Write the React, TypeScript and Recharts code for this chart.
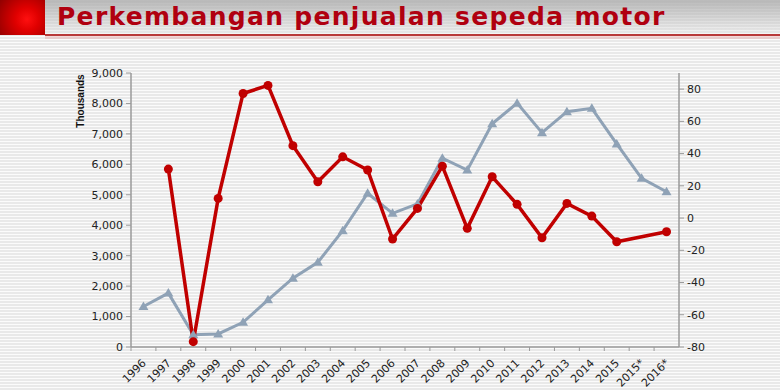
import React from "react";
import { LineChart, Line, XAxis, YAxis } from "recharts";

const years = ["1996","1997","1998","1999","2000","2001","2002","2003","2004","2005","2006","2007","2008","2009","2010","2011","2012","2013","2014","2015","2015*","2016*"];
// Sales (thousands of units)
const sales = [1330,1770,400,430,810,1550,2260,2780,3820,5050,4390,4700,6200,5810,7330,8010,7040,7730,7840,6670,5540,5100];
// Growth (%)
const growth: (number | null)[] = [null,30.4,-76.7,12.2,77.3,82.3,44.9,22.5,38,29.8,-13,6,32.2,-6.4,25.6,8.5,-12.2,9.1,1.2,-14.7,null,-8.5];
const leftTicks = [0,1000,2000,3000,4000,5000,6000,7000,8000,9000];
const rightTicks = [-80,-60,-40,-20,0,20,40,60,80];

const data = years.map((y, i) => ({ year: y, sales: sales[i], growth: growth[i] }));

const GREY = "#8fa2b6";
const RED = "#c00000";
const FONT = "'DejaVu Sans', Verdana, sans-serif";
const PLOT_W = 548;

const XTick = (props: any) => {
  const { x, y, payload } = props;
  const off = payload.offset || PLOT_W / years.length / 2;
  return (
    <g>
      <line x1={x - off} x2={x - off} y1={y} y2={y + 4} stroke="#9a9a9a" strokeWidth={1} />
      <g transform={`translate(${x + 0.5},${y + 14})`}>
        <text x={0} y={0} dy="0.35em" textAnchor="end" transform="rotate(-45)" fontSize={11} fontFamily={FONT} fill="#222">
          {payload.value}
        </text>
      </g>
    </g>
  );
};

const Triangle = (props: any) => {
  const { cx, cy } = props;
  if (cx == null || cy == null) return null;
  return <polygon points={`${cx},${cy - 5} ${cx - 5},${cy + 3.5} ${cx + 5},${cy + 3.5}`} fill={GREY} />;
};

const Circle = (props: any) => {
  const { cx, cy, value } = props;
  if (cx == null || cy == null || value == null) return null;
  return <circle cx={cx} cy={cy} r={4.5} fill={RED} />;
};

export default function App() {
  return (
    <div
      style={{
        position: "absolute",
        left: 0,
        top: 0,
        width: 780,
        height: 390,
        overflow: "hidden",
        background: "repeating-linear-gradient(to bottom, #fbfbfb 0px, #fbfbfb 1.5px, #e9e9e9 1.5px, #e9e9e9 3px)",
      }}
    >
      <div
        style={{
          position: "absolute",
          left: 0,
          top: 0,
          width: 780,
          height: 34,
          background: "linear-gradient(to bottom, rgba(170,170,170,0.8), rgba(230,230,230,0.3))",
        }}
      />
      <div
        style={{
          position: "absolute",
          left: 0,
          top: 0,
          width: 45,
          height: 35,
          background: "radial-gradient(circle at 60% 55%, #ff1010 0%, #e00000 35%, #900000 100%)",
        }}
      />
      <div style={{ position: "absolute", left: 45, top: 34, width: 735, height: 2, background: "#b83838" }} />
      <div style={{ position: "absolute", left: 45, top: 36, width: 735, height: 3, background: "rgba(230,150,150,0.35)" }} />
      <div
        style={{
          position: "absolute",
          left: 57,
          top: 2,
          fontFamily: "'DejaVu Sans', sans-serif",
          fontWeight: 700,
          fontSize: 25,
          letterSpacing: "1.3px",
          color: "#b00010",
          whiteSpace: "nowrap",
        }}
      >
        Perkembangan penjualan sepeda motor
      </div>
      <div style={{ position: "absolute", left: 0, top: 0 }}>
        <LineChart width={780} height={390} data={data} margin={{ top: 73, right: 41, bottom: 0, left: 71 }}>
          <XAxis
            dataKey="year"
            scale="band"
            height={43}
            interval={0}
            tickLine={false}
            tickSize={0}
            tickMargin={0}
            axisLine={{ stroke: "#9a9a9a", strokeWidth: 1.5 }}
            tick={<XTick />}
          />
          <YAxis
            yAxisId="left"
            width={60}
            domain={[0, 9000]}
            ticks={leftTicks}
            interval={0}
            tickFormatter={(v: number) => v.toLocaleString("en-US")}
            tick={{ fontSize: 11, fontFamily: FONT, fill: "#222" }}
            tickSize={5}
            tickMargin={3}
            tickLine={{ stroke: "#9a9a9a" }}
            axisLine={{ stroke: "#9a9a9a", strokeWidth: 1.5 }}
            label={{
              content: () => (
                <text x={84} y={101} transform="rotate(-90 84 101)" textAnchor="middle" fontSize={10} fontWeight={700} fontFamily="'Liberation Sans', Arial, sans-serif" fill="#111">
                  Thousands
                </text>
              ),
            }}
          />
          <YAxis
            yAxisId="right"
            orientation="right"
            width={60}
            domain={[-80, 90]}
            ticks={rightTicks}
            interval={0}
            tick={{ fontSize: 11, fontFamily: FONT, fill: "#222", textAnchor: "start" }}
            tickSize={5}
            tickMargin={3}
            tickLine={{ stroke: "#9a9a9a" }}
            axisLine={{ stroke: "#9a9a9a", strokeWidth: 1.5 }}
          />
          <Line
            yAxisId="left"
            type="linear"
            dataKey="sales"
            stroke={GREY}
            strokeWidth={3}
            dot={<Triangle />}
            activeDot={false}
            isAnimationActive={false}
          />
          <Line
            yAxisId="right"
            type="linear"
            dataKey="growth"
            stroke={RED}
            strokeWidth={3.5}
            dot={<Circle />}
            activeDot={false}
            connectNulls
            isAnimationActive={false}
          />
        </LineChart>
      </div>
    </div>
  );
}
